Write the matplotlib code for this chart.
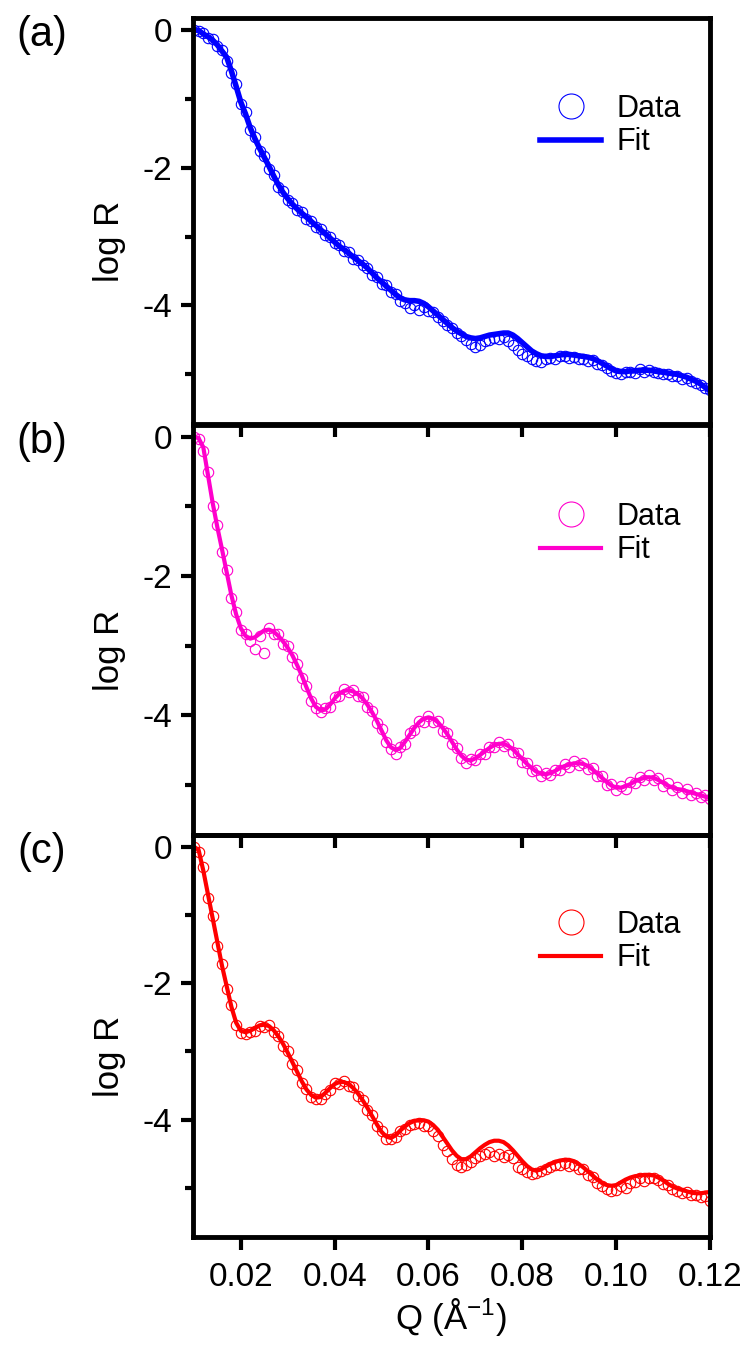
import matplotlib
matplotlib.use('Agg')
import matplotlib.pyplot as plt

plt.rcParams['font.family'] = ['Liberation Sans', 'DejaVu Sans']
plt.rcParams['mathtext.default'] = 'regular'

# Q grid (1/A)
q = [0.010, 0.011, 0.012, 0.013, 0.014, 0.015, 0.016, 0.017, 0.018, 0.019,
     0.020, 0.021, 0.022, 0.023, 0.024, 0.025, 0.026, 0.027, 0.028, 0.029,
     0.030, 0.031, 0.032, 0.033, 0.034, 0.035, 0.036, 0.037, 0.038, 0.039,
     0.040, 0.041, 0.042, 0.043, 0.044, 0.045, 0.046, 0.047, 0.048, 0.049,
     0.050, 0.051, 0.052, 0.053, 0.054, 0.055, 0.056, 0.057, 0.058, 0.059,
     0.060, 0.061, 0.062, 0.063, 0.064, 0.065, 0.066, 0.067, 0.068, 0.069,
     0.070, 0.071, 0.072, 0.073, 0.074, 0.075, 0.076, 0.077, 0.078, 0.079,
     0.080, 0.081, 0.082, 0.083, 0.084, 0.085, 0.086, 0.087, 0.088, 0.089,
     0.090, 0.091, 0.092, 0.093, 0.094, 0.095, 0.096, 0.097, 0.098, 0.099,
     0.100, 0.101, 0.102, 0.103, 0.104, 0.105, 0.106, 0.107, 0.108, 0.109,
     0.110, 0.111, 0.112, 0.113, 0.114, 0.115, 0.116, 0.117, 0.118, 0.119,
     0.120]

# panel (a)
data_a = [0.00, -0.02, -0.05, -0.12, -0.13, -0.24, -0.30, -0.45, -0.62, -0.78,
          -1.08, -1.20, -1.45, -1.55, -1.76, -1.83, -2.02, -2.10, -2.28, -2.34,
          -2.47, -2.51, -2.62, -2.65, -2.74, -2.77, -2.86, -2.89, -2.98, -3.01,
          -3.10, -3.12, -3.21, -3.23, -3.32, -3.34, -3.42, -3.45, -3.56, -3.59,
          -3.69, -3.71, -3.80, -3.83, -3.93, -3.97, -4.03, -4.00, -4.06, -4.02,
          -4.08, -4.10, -4.17, -4.22, -4.28, -4.33, -4.40, -4.44, -4.50, -4.56,
          -4.60, -4.57, -4.52, -4.50, -4.47, -4.49, -4.46, -4.52, -4.58, -4.64,
          -4.70, -4.74, -4.78, -4.80, -4.82, -4.78, -4.76, -4.77, -4.74, -4.73,
          -4.76, -4.75, -4.78, -4.77, -4.80, -4.79, -4.85, -4.86, -4.91, -4.95,
          -4.98, -4.99, -4.97, -4.96, -4.98, -4.92, -4.96, -4.93, -4.97, -4.98,
          -5.00, -4.99, -5.02, -5.03, -5.06, -5.05, -5.10, -5.13, -5.16, -5.20,
          -5.22]
fit_a = [0.00, -0.01, -0.06, -0.10, -0.15, -0.22, -0.31, -0.40, -0.60, -0.82,
         -1.05, -1.22, -1.42, -1.58, -1.72, -1.85, -1.98, -2.12, -2.25, -2.36,
         -2.45, -2.53, -2.60, -2.66, -2.72, -2.78, -2.84, -2.90, -2.96, -3.02,
         -3.08, -3.14, -3.19, -3.24, -3.30, -3.35, -3.40, -3.46, -3.53, -3.60,
         -3.66, -3.72, -3.78, -3.84, -3.89, -3.92, -3.93, -3.93, -3.94, -3.97,
         -4.02, -4.08, -4.14, -4.20, -4.26, -4.32, -4.37, -4.41, -4.45, -4.47,
         -4.48, -4.47, -4.45, -4.43, -4.42, -4.41, -4.40, -4.40, -4.43, -4.48,
         -4.54, -4.60, -4.66, -4.70, -4.73, -4.74, -4.74, -4.73, -4.72, -4.71,
         -4.71, -4.72, -4.73, -4.74, -4.75, -4.77, -4.80, -4.84, -4.88, -4.92,
         -4.95, -4.96, -4.96, -4.95, -4.95, -4.94, -4.94, -4.94, -4.95, -4.96,
         -4.97, -4.98, -4.99, -5.00, -5.02, -5.04, -5.07, -5.10, -5.14, -5.19,
         -5.24]

# panel (b)
data_b = [0.00, -0.03, -0.20, -0.50, -1.00, -1.27, -1.66, -1.92, -2.32, -2.52,
          -2.78, -2.84, -2.93, -3.05, -2.86, -3.10, -2.75, -2.83, -2.84, -2.97,
          -3.01, -3.17, -3.26, -3.46, -3.58, -3.79, -3.90, -3.96, -3.90, -3.88,
          -3.74, -3.72, -3.63, -3.67, -3.64, -3.73, -3.74, -3.88, -3.94, -4.11,
          -4.20, -4.39, -4.48, -4.55, -4.45, -4.41, -4.26, -4.21, -4.08, -4.09,
          -4.01, -4.09, -4.08, -4.22, -4.25, -4.42, -4.47, -4.62, -4.68, -4.63,
          -4.65, -4.55, -4.55, -4.45, -4.46, -4.39, -4.44, -4.42, -4.53, -4.54,
          -4.67, -4.68, -4.80, -4.79, -4.88, -4.83, -4.86, -4.78, -4.79, -4.70,
          -4.74, -4.66, -4.72, -4.68, -4.77, -4.76, -4.88, -4.88, -5.00, -4.99,
          -5.08, -5.02, -5.06, -4.96, -4.98, -4.89, -4.93, -4.86, -4.93, -4.90,
          -5.01, -4.98, -5.08, -5.03, -5.11, -5.06, -5.14, -5.11, -5.18, -5.15,
          -5.20]
fit_b = [0.00, -0.02, -0.15, -0.55, -0.95, -1.30, -1.62, -1.95, -2.28, -2.55,
         -2.75, -2.86, -2.90, -2.88, -2.83, -2.78, -2.77, -2.80, -2.86, -2.94,
         -3.03, -3.14, -3.28, -3.43, -3.60, -3.76, -3.88, -3.93, -3.92, -3.85,
         -3.76, -3.69, -3.65, -3.64, -3.66, -3.70, -3.76, -3.85, -3.96, -4.08,
         -4.22, -4.36, -4.46, -4.50, -4.47, -4.38, -4.28, -4.18, -4.10, -4.05,
         -4.03, -4.05, -4.10, -4.18, -4.27, -4.38, -4.49, -4.58, -4.64, -4.65,
         -4.62, -4.57, -4.52, -4.47, -4.43, -4.41, -4.41, -4.44, -4.49, -4.56,
         -4.63, -4.70, -4.76, -4.81, -4.84, -4.85, -4.83, -4.80, -4.76, -4.73,
         -4.71, -4.69, -4.69, -4.70, -4.73, -4.78, -4.84, -4.90, -4.96, -5.01,
         -5.04, -5.04, -5.02, -4.99, -4.95, -4.92, -4.90, -4.89, -4.90, -4.93,
         -4.97, -5.01, -5.04, -5.06, -5.07, -5.09, -5.11, -5.13, -5.15, -5.17,
         -5.19]

# panel (c)
data_c = [0.00, -0.08, -0.30, -0.75, -1.02, -1.45, -1.72, -2.09, -2.32, -2.62,
          -2.73, -2.75, -2.71, -2.70, -2.63, -2.65, -2.62, -2.72, -2.77, -2.92,
          -3.00, -3.19, -3.28, -3.47, -3.55, -3.67, -3.70, -3.70, -3.62, -3.57,
          -3.47, -3.48, -3.44, -3.51, -3.53, -3.65, -3.71, -3.86, -3.94, -4.10,
          -4.17, -4.28, -4.28, -4.26, -4.17, -4.14, -4.08, -4.07, -4.05, -4.09,
          -4.10, -4.17, -4.24, -4.37, -4.46, -4.58, -4.66, -4.70, -4.66, -4.62,
          -4.57, -4.53, -4.50, -4.47, -4.53, -4.50, -4.55, -4.52, -4.56, -4.70,
          -4.72, -4.77, -4.80, -4.78, -4.76, -4.73, -4.70, -4.66, -4.67, -4.63,
          -4.68, -4.66, -4.72, -4.73, -4.81, -4.84, -4.93, -4.97, -5.02, -5.05,
          -5.03, -4.98, -5.00, -4.93, -4.92, -4.86, -4.90, -4.85, -4.86, -4.88,
          -4.94, -4.96, -5.02, -5.05, -5.07, -5.06, -5.11, -5.10, -5.14, -5.12,
          -5.20]
fit_c = [0.00, -0.05, -0.35, -0.70, -1.05, -1.40, -1.75, -2.05, -2.35, -2.58,
         -2.70, -2.72, -2.70, -2.66, -2.62, -2.61, -2.63, -2.69, -2.78, -2.89,
         -3.02, -3.16, -3.30, -3.44, -3.56, -3.64, -3.68, -3.67, -3.61, -3.54,
         -3.48, -3.45, -3.45, -3.48, -3.54, -3.62, -3.72, -3.83, -3.95, -4.07,
         -4.18, -4.25, -4.27, -4.23, -4.16, -4.10, -4.05, -4.02, -4.01, -4.01,
         -4.03, -4.08, -4.15, -4.25, -4.35, -4.45, -4.53, -4.58, -4.58, -4.54,
         -4.48, -4.42, -4.37, -4.33, -4.31, -4.31, -4.33, -4.38, -4.45, -4.53,
         -4.61, -4.68, -4.73, -4.75, -4.73, -4.69, -4.65, -4.62, -4.60, -4.59,
         -4.59, -4.61, -4.65, -4.70, -4.76, -4.82, -4.88, -4.93, -4.96, -4.97,
         -4.96, -4.92, -4.88, -4.85, -4.83, -4.82, -4.81, -4.81, -4.82, -4.85,
         -4.89, -4.94, -4.98, -5.01, -5.03, -5.05, -5.07, -5.08, -5.08, -5.07,
         -5.06]

panels = ['(a)', '(b)', '(c)']
colors = ['#0000FF', '#FF00CC', '#FF0000']
fit_widths = [4.0, 3.0, 3.0]
all_data = [data_a, data_b, data_c]
all_fit = [fit_a, fit_b, fit_c]

fig = plt.figure(figsize=(7.52, 13.59), dpi=100)

# axes rectangles in figure fraction (left, bottom, width, height)
rects = [(0.2566, 0.688, 0.6875, 0.2987),
         (0.2566, 0.3856, 0.6875, 0.3017),
         (0.2566, 0.0898, 0.6875, 0.2958)]
label_y = [0.974, 0.675, 0.373]

for i in range(3):
    ax = fig.add_axes(rects[i])
    ax.patch.set_alpha(0)
    ax.plot(q, all_data[i], linestyle='none', marker='o', markersize=7.5,
            markerfacecolor='none', markeredgecolor=colors[i],
            markeredgewidth=0.8, label='Data')
    ax.plot(q, all_fit[i], color=colors[i], linewidth=fit_widths[i], label='Fit')

    ax.set_xlim(0.0098, 0.12)
    ax.set_ylim(-5.72, 0.17)
    ax.set_yticks([0, -2, -4])
    ax.set_yticklabels(['0', '-2', '-4'])
    ax.set_yticks([-1, -3, -5], minor=True)
    ax.set_xticks([0.02, 0.04, 0.06, 0.08, 0.10, 0.12])

    for s in ax.spines.values():
        s.set_linewidth(3.5)
    ax.tick_params(axis='both', which='major', direction='out', length=9,
                   width=3, labelsize=24, pad=6)
    ax.tick_params(axis='x', which='major', pad=9)
    ax.tick_params(axis='y', which='minor', direction='out', length=6, width=3)

    if i < 2:
        ax.tick_params(axis='x', labelbottom=False)
    else:
        ax.set_xticklabels(['0.02', '0.04', '0.06', '0.08', '0.10', '0.12'])
        ax.set_xlabel('Q (Å$^{-1}$)', fontsize=25, labelpad=2)

    ax.set_ylabel('log R', fontsize=25)
    ax.yaxis.set_label_coords(-0.13, 0.45)

    ax.legend(loc='center left', bbox_to_anchor=(0.672, 0.735), frameon=False,
              fontsize=22, markerscale=2.4, handlelength=2.0, handletextpad=0.5,
              labelspacing=0.12, borderpad=0, borderaxespad=0)

    fig.text(0.056, label_y[i], panels[i], fontsize=30, ha='center', va='center')

fig.savefig('out.png', dpi=100)
